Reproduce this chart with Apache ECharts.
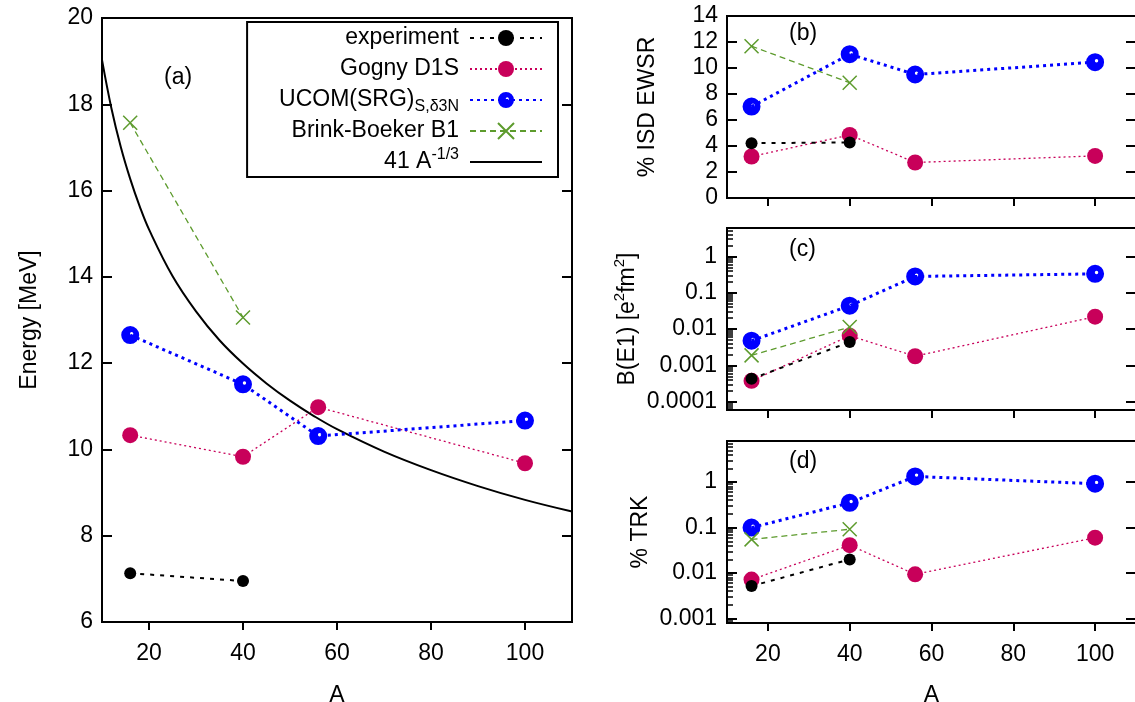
<!DOCTYPE html>
<html>
<head>
<meta charset="utf-8">
<script src="https://cdn.jsdelivr.net/npm/echarts@6/dist/echarts.min.js"></script>
<style>
html, body { margin: 0; padding: 0; background: #fff; }
#chart { width: 1135px; height: 702px; }
</style>
</head>
<body>
<div id="chart"></div>
<script>
// mass numbers A of the nuclei
const massNumbers = [16, 40, 56, 100];

// (a) energy [MeV]
const energyExp = [7.13, 6.95];
const energyGogny = [10.33, 9.83, 10.98, 9.68];
const energyUcom = [12.65, 11.51, 10.31, 10.67];
const energyBrink = [17.57, 13.06];
// 41 A^-1/3 curve
const curveA = [10, 12, 14, 16, 18, 20, 25, 30, 35, 40, 45, 50, 55, 60, 70, 80, 90, 100, 110];
const curveE = [19.03, 17.91, 17.01, 16.27, 15.64, 15.10, 14.02, 13.20, 12.53, 11.99, 11.53, 11.13, 10.78, 10.47, 9.95, 9.52, 9.15, 8.83, 8.56];

// (b) % ISD EWSR
const ewsrExp = [4.22, 4.27];
const ewsrGogny = [3.19, 4.85, 2.73, 3.24];
const ewsrUcom = [7.03, 11.06, 9.5, 10.45];
const ewsrBrink = [11.68, 8.87];

// (c) B(E1) [e^2 fm^2]
const be1Exp = [0.00043, 0.0044];
const be1Gogny = [0.00038, 0.0066, 0.0018, 0.022];
const be1Ucom = [0.0048, 0.044, 0.28, 0.33];
const be1Brink = [0.0019, 0.0114];

// (d) % TRK
const trkExp = [0.0052, 0.020];
const trkGogny = [0.0072, 0.041, 0.0094, 0.060];
const trkUcom = [0.10, 0.35, 1.33, 0.92];
const trkBrink = [0.055, 0.092];

// tick labels
const xTicks = [20, 40, 60, 80, 100];
const minorMultipliers = [2, 3, 4, 5, 6, 7, 8, 9];

const FONT = 'Liberation Sans';
const FS = 23;

const nExp = 'experiment';
const nGogny = 'Gogny D1S';
const nUcom = 'UCOM(SRG)';
const nBrink = 'Brink-Boeker B1';
const nCurve = '41 A^-1/3';

// blue dot with small white highlight
const ucomSymbol = 'path://M10 0A10 10 0 1 1 10 20A10 10 0 1 1 10 0ZM11.6 6.6A1.9 1.9 0 1 0 11.6 10.4A1.9 1.9 0 1 0 11.6 6.6Z';
const crossSymbol = 'path://M0 0L10 10M10 0L0 10';

const styles = {};
styles[nExp] = { color: '#000000', symbol: 'circle', size: 12, width: 2, type: [4, 6], z: 6 };
styles[nGogny] = { color: '#c8005a', symbol: 'circle', size: 16, width: 1.3, type: [2, 3], z: 3 };
styles[nUcom] = { color: '#0000ff', symbol: ucomSymbol, size: 18, width: 3, type: [3, 4], z: 4 };
styles[nBrink] = { color: '#5d9b2d', symbol: crossSymbol, size: 14, width: 1.3, type: [6, 4], z: 5, cross: true };

function pts(ys) {
  return ys.map((y, i) => [massNumbers[i], y]);
}

function pointSeries(name, ys, xi, yi) {
  const s = styles[name];
  return {
    name: name,
    type: 'line',
    xAxisIndex: xi,
    yAxisIndex: yi,
    data: pts(ys),
    symbol: s.symbol,
    symbolSize: s.size,
    showAllSymbol: true,
    z: s.z,
    itemStyle: s.cross
      ? { color: s.color, borderColor: s.color, borderWidth: 1.5 }
      : { color: s.color, borderWidth: 0 },
    lineStyle: { color: s.color, width: s.width, type: s.type },
    emphasis: { disabled: true }
  };
}

const labelStyle = { color: '#000', fontFamily: FONT, fontSize: FS };
const nameStyle = {
  color: '#000', fontFamily: FONT, fontSize: FS, lineHeight: 30,
  rich: {
    n: { fontFamily: FONT, fontSize: FS, lineHeight: 30, color: '#000' },
    sup: { fontFamily: FONT, fontSize: 15, lineHeight: 12, verticalAlign: 'top', color: '#000' }
  }
};
const blackLine = { show: true, onZero: false, lineStyle: { color: '#000', width: 2 } };

function powerLabel(v) {
  const l = Math.log10(v);
  return Math.abs(l - Math.round(l)) < 1e-6 ? String(v) : '';
}

// minor tick positions (2..9 x 10^e), in log10 units for an overlay axis
function minorLogValues(lo, hi) {
  const out = [];
  for (let e = -6; e <= 1; e++) {
    minorMultipliers.forEach(m => {
      const v = m * Math.pow(10, e);
      if (v > lo && v < hi) out.push(Math.log10(v));
    });
  }
  return out;
}

const grids = [
  { left: 102, top: 18, width: 470, height: 604 },
  { left: 727, top: 16, width: 409, height: 182 },
  { left: 727, top: 228, width: 409, height: 182 },
  { left: 727, top: 441, width: 409, height: 182 }
].map(g => Object.assign(g, {
  show: true, borderColor: '#000', borderWidth: 2, containLabel: false, outerBoundsMode: 'none'
}));

function xAxisFor(gi, withLabels, gap) {
  return {
    type: 'value', gridIndex: gi, min: 10, max: 110,
    name: withLabels ? 'A' : '', nameLocation: 'middle', nameGap: gap,
    nameTextStyle: labelStyle,
    axisLine: blackLine,
    splitLine: { show: false },
    axisTick: { show: true, inside: false, length: 8, customValues: xTicks, lineStyle: { color: '#000', width: 2 } },
    axisLabel: { show: withLabels, customValues: xTicks, margin: 20, ...labelStyle }
  };
}

function linAxis(gi, pos, min, max, name, gap) {
  return {
    type: 'value', gridIndex: gi, position: pos, min: min, max: max, interval: 2,
    name: name, nameLocation: 'middle', nameGap: gap, nameRotate: 90, nameTextStyle: nameStyle,
    axisLine: blackLine,
    splitLine: { show: false },
    axisTick: { show: true, inside: true, length: 10, lineStyle: { color: '#000', width: 2 } },
    axisLabel: { show: pos === 'left', margin: 9, ...labelStyle }
  };
}

function logAxis(gi, pos, min, max, name, gap) {
  return {
    type: 'log', logBase: 10, gridIndex: gi, position: pos, min: min, max: max,
    name: name, nameLocation: 'middle', nameGap: gap, nameRotate: 90, nameTextStyle: nameStyle,
    axisLine: blackLine,
    splitLine: { show: false },
    axisTick: { show: true, inside: true, length: 10, lineStyle: { color: '#000', width: 2 } },
    axisLabel: {
      show: pos === 'left', margin: 10, showMinLabel: false, showMaxLabel: false,
      formatter: powerLabel, ...labelStyle
    }
  };
}

// overlay axis that only carries the short log minor ticks
function minorAxis(gi, min, max) {
  return {
    type: 'value', gridIndex: gi, position: 'left',
    min: Math.log10(min), max: Math.log10(max),
    axisLine: { show: false, onZero: false },
    splitLine: { show: false },
    axisTick: { show: true, inside: true, length: 6, customValues: minorLogValues(min, max), lineStyle: { color: '#000', width: 1.5 } },
    axisLabel: { show: false }
  };
}

const xAxes = [xAxisFor(0, true, 62), xAxisFor(1, false, 0), xAxisFor(2, false, 0), xAxisFor(3, true, 61)];
const yAxes = [
  linAxis(0, 'left', 6, 20, 'Energy [MeV]', 57),
  linAxis(0, 'right', 6, 20, '', 0),
  linAxis(1, 'left', 0, 14, '% ISD EWSR', 64),
  linAxis(1, 'right', 0, 14, '', 0),
  logAxis(2, 'left', 6e-5, 6, '{n|B(E1) [e}{sup|2}{n|fm}{sup|2}{n|]}', 72),
  logAxis(2, 'right', 6e-5, 6, '', 0),
  minorAxis(2, 6e-5, 6),
  logAxis(3, 'left', 8e-4, 8, '% TRK', 64),
  logAxis(3, 'right', 8e-4, 8, '', 0),
  minorAxis(3, 8e-4, 8)
];

const series = [
  pointSeries(nGogny, energyGogny, 0, 0),
  pointSeries(nUcom, energyUcom, 0, 0),
  pointSeries(nBrink, energyBrink, 0, 0),
  pointSeries(nExp, energyExp, 0, 0),
  {
    name: nCurve, type: 'line', xAxisIndex: 0, yAxisIndex: 0,
    data: curveA.map((a, i) => [a, curveE[i]]),
    symbol: 'none', smooth: 0.4, z: 2,
    itemStyle: { color: '#000' },
    lineStyle: { color: '#000', width: 2, type: 'solid' },
    emphasis: { disabled: true }
  },
  pointSeries(nGogny, ewsrGogny, 1, 2),
  pointSeries(nUcom, ewsrUcom, 1, 2),
  pointSeries(nBrink, ewsrBrink, 1, 2),
  pointSeries(nExp, ewsrExp, 1, 2),
  pointSeries(nGogny, be1Gogny, 2, 4),
  pointSeries(nUcom, be1Ucom, 2, 4),
  pointSeries(nBrink, be1Brink, 2, 4),
  pointSeries(nExp, be1Exp, 2, 4),
  pointSeries(nGogny, trkGogny, 3, 7),
  pointSeries(nUcom, trkUcom, 3, 7),
  pointSeries(nBrink, trkBrink, 3, 7),
  pointSeries(nExp, trkExp, 3, 7)
];

const legendText = {};
legendText[nExp] = '{n|experiment}';
legendText[nGogny] = '{n|Gogny D1S}';
legendText[nUcom] = '{n|UCOM(SRG)}{sub|S,δ3N}';
legendText[nBrink] = '{n|Brink-Boeker B1}';
legendText[nCurve] = '{n|41 A}{sup|-1/3}';

const chart = echarts.init(document.getElementById('chart'));
chart.setOption({
  animation: false,
  textStyle: { fontFamily: FONT },
  grid: grids,
  xAxis: xAxes,
  yAxis: yAxes,
  legend: {
    data: [nExp, nGogny, nUcom, nBrink, { name: nCurve, itemStyle: { opacity: 0 } }],
    orient: 'vertical',
    align: 'right',
    right: 577,
    top: 22,
    padding: [1, 15, 0, 32],
    itemWidth: 72,
    itemHeight: 20,
    itemGap: 1,
    borderColor: '#000',
    borderWidth: 2,
    selectedMode: false,
    backgroundColor: '#fff',
    formatter: name => legendText[name],
    textStyle: {
      color: '#000', fontFamily: FONT, fontSize: FS, lineHeight: 30, padding: [0, 6, 0, 0],
      rich: {
        n: { fontFamily: FONT, fontSize: FS, lineHeight: 30, color: '#000' },
        sub: { fontFamily: FONT, fontSize: 16, lineHeight: 12, verticalAlign: 'bottom', color: '#000' },
        sup: { fontFamily: FONT, fontSize: 16, lineHeight: 12, verticalAlign: 'top', color: '#000' }
      }
    }
  },
  graphic: [
    { type: 'text', left: 164, top: 66, style: { text: '(a)', font: FS + 'px ' + FONT, fill: '#000' } },
    { type: 'text', left: 789, top: 22, style: { text: '(b)', font: FS + 'px ' + FONT, fill: '#000' } },
    { type: 'text', left: 789, top: 238, style: { text: '(c)', font: FS + 'px ' + FONT, fill: '#000' } },
    { type: 'text', left: 789, top: 450, style: { text: '(d)', font: FS + 'px ' + FONT, fill: '#000' } }
  ],
  series: series
});
</script>
</body>
</html>
